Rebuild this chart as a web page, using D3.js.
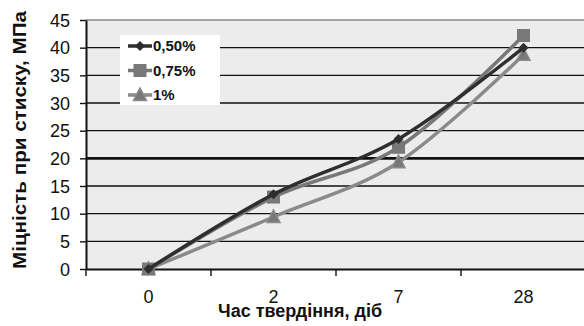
<!DOCTYPE html>
<html>
<head>
<meta charset="utf-8">
<script src="https://cdn.jsdelivr.net/npm/d3@7"></script>
<style>
  html, body { margin: 0; padding: 0; background: #fff; }
  svg { display: block; }
</style>
</head>
<body>
<svg id="chart" width="584" height="326"></svg>
<script>
// Curing time categories (days) and compressive strength, MPa
const days = ["0", "2", "7", "28"];
const s050 = [0, 13.5, 23.5, 40];
const s075 = [0, 13.0, 22.0, 42.2];
const s100 = [0, 9.4, 19.3, 38.7];
const seriesNames = ["0,50%", "0,75%", "1%"];
const yTicks = [0, 5, 10, 15, 20, 25, 30, 35, 40, 45];

const series = [
  { name: seriesNames[0], values: s050, color: "#2e2e2e", marker: "diamond" },
  { name: seriesNames[1], values: s075, color: "#787878", marker: "square" },
  { name: seriesNames[2], values: s100, color: "#8a8a8a", marker: "triangle" }
];

const FONT = "'Liberation Sans Narrow', 'Arial Narrow', 'Liberation Sans', Arial, sans-serif";

const svg = d3.select("#chart");
const m = { left: 86, right: 586, top: 20, bottom: 269 };

const x = d3.scaleBand().domain(days).range([m.left, m.right]);
const y = d3.scaleLinear().domain([0, 45]).range([m.bottom, m.top]);

// plot area background
svg.append("rect")
  .attr("x", m.left).attr("y", m.top)
  .attr("width", m.right - m.left).attr("height", m.bottom - m.top)
  .attr("fill", "#ececec");

// horizontal gridlines
svg.append("g").selectAll("line")
  .data(yTicks.filter(d => d > 0))
  .join("line")
  .attr("x1", m.left).attr("x2", m.right)
  .attr("y1", d => y(d)).attr("y2", d => y(d))
  .attr("stroke", d => d === 45 ? "#8a8a8a" : "#111")
  .attr("stroke-width", d => d === 20 ? 2.6 : 1.4);

// y axis
const yAxis = svg.append("g")
  .attr("transform", `translate(${m.left},0)`)
  .call(d3.axisLeft(y).tickValues(yTicks).tickSize(6).tickPadding(10).tickSizeOuter(0));
yAxis.select(".domain").attr("stroke", "#111").attr("stroke-width", 2);
yAxis.selectAll(".tick line").attr("stroke", "#111").attr("stroke-width", 1.4);
yAxis.selectAll("text")
  .attr("font-family", FONT)
  .attr("font-size", 18).attr("fill", "#111").attr("dy", "0.35em");

// x axis
const xAxis = svg.append("g")
  .attr("transform", `translate(0,${m.bottom})`)
  .call(d3.axisBottom(x).tickSize(0).tickPadding(21));
xAxis.select(".domain").attr("stroke", "#111").attr("stroke-width", 2);
xAxis.selectAll("text")
  .attr("font-family", FONT)
  .attr("font-size", 18).attr("fill", "#111");
// tick marks between categories
svg.append("g").selectAll("line")
  .data(days.concat(["end"]))
  .join("line")
  .attr("x1", (d, i) => m.left + i * x.step())
  .attr("x2", (d, i) => m.left + i * x.step())
  .attr("y1", m.bottom).attr("y2", m.bottom + 7)
  .attr("stroke", "#111").attr("stroke-width", 1.4);

// series lines
const line = d3.line()
  .x((d, i) => x(days[i]) + x.bandwidth() / 2)
  .y(d => y(d))
  .curve(d3.curveCardinal.tension(0));

const drawMarker = (g, type, color, cx, cy) => {
  if (type === "diamond") {
    g.append("path").attr("d", `M${cx},${cy - 5}L${cx + 5},${cy}L${cx},${cy + 5}L${cx - 5},${cy}Z`).attr("fill", color);
  } else if (type === "square") {
    g.append("rect").attr("x", cx - 6.5).attr("y", cy - 6.5).attr("width", 13).attr("height", 13).attr("fill", color);
  } else {
    g.append("path").attr("d", `M${cx},${cy - 7}L${cx + 6.5},${cy + 5.5}L${cx - 6.5},${cy + 5.5}Z`)
      .attr("fill", "#777").attr("stroke", color).attr("stroke-width", 1.5);
  }
};

// draw in reverse so the 0,50% line sits on top
[...series].reverse().forEach(s => {
  svg.append("path")
    .datum(s.values)
    .attr("d", line)
    .attr("fill", "none")
    .attr("stroke", s.color)
    .attr("stroke-width", 3.5);
  const g = svg.append("g");
  s.values.forEach((v, i) => drawMarker(g, s.marker, s.color, x(days[i]) + x.bandwidth() / 2, y(v)));
});

// legend
const lg = svg.append("g");
lg.append("rect").attr("x", 120).attr("y", 35).attr("width", 100).attr("height", 70).attr("fill", "#fff");
series.forEach((s, i) => {
  const ly = 46 + i * 24.5;
  lg.append("line").attr("x1", 128).attr("x2", 152).attr("y1", ly).attr("y2", ly)
    .attr("stroke", s.color).attr("stroke-width", 3.5);
  drawMarker(lg, s.marker, s.color, 140, ly);
  lg.append("text").attr("x", 153).attr("y", ly).attr("dy", "0.36em")
    .attr("font-family", FONT)
    .attr("font-size", 15).attr("font-weight", "bold").attr("fill", "#111")
    .text(s.name);
});

// axis titles
svg.append("text")
  .attr("x", 300).attr("y", 317).attr("text-anchor", "middle")
  .attr("font-family", FONT)
  .attr("font-size", 18).attr("font-weight", "bold").attr("fill", "#111")
  .attr("textLength", 164).attr("lengthAdjust", "spacingAndGlyphs")
  .text("Час твердіння, діб");

svg.append("text")
  .attr("transform", "translate(26,140) rotate(-90)")
  .attr("text-anchor", "middle")
  .attr("font-family", "'Liberation Sans', Arial, sans-serif")
  .attr("font-size", 18).attr("font-weight", "bold").attr("fill", "#111")
  .attr("textLength", 258).attr("lengthAdjust", "spacingAndGlyphs")
  .text("Міцність при стиску, МПа");
</script>
</body>
</html>
